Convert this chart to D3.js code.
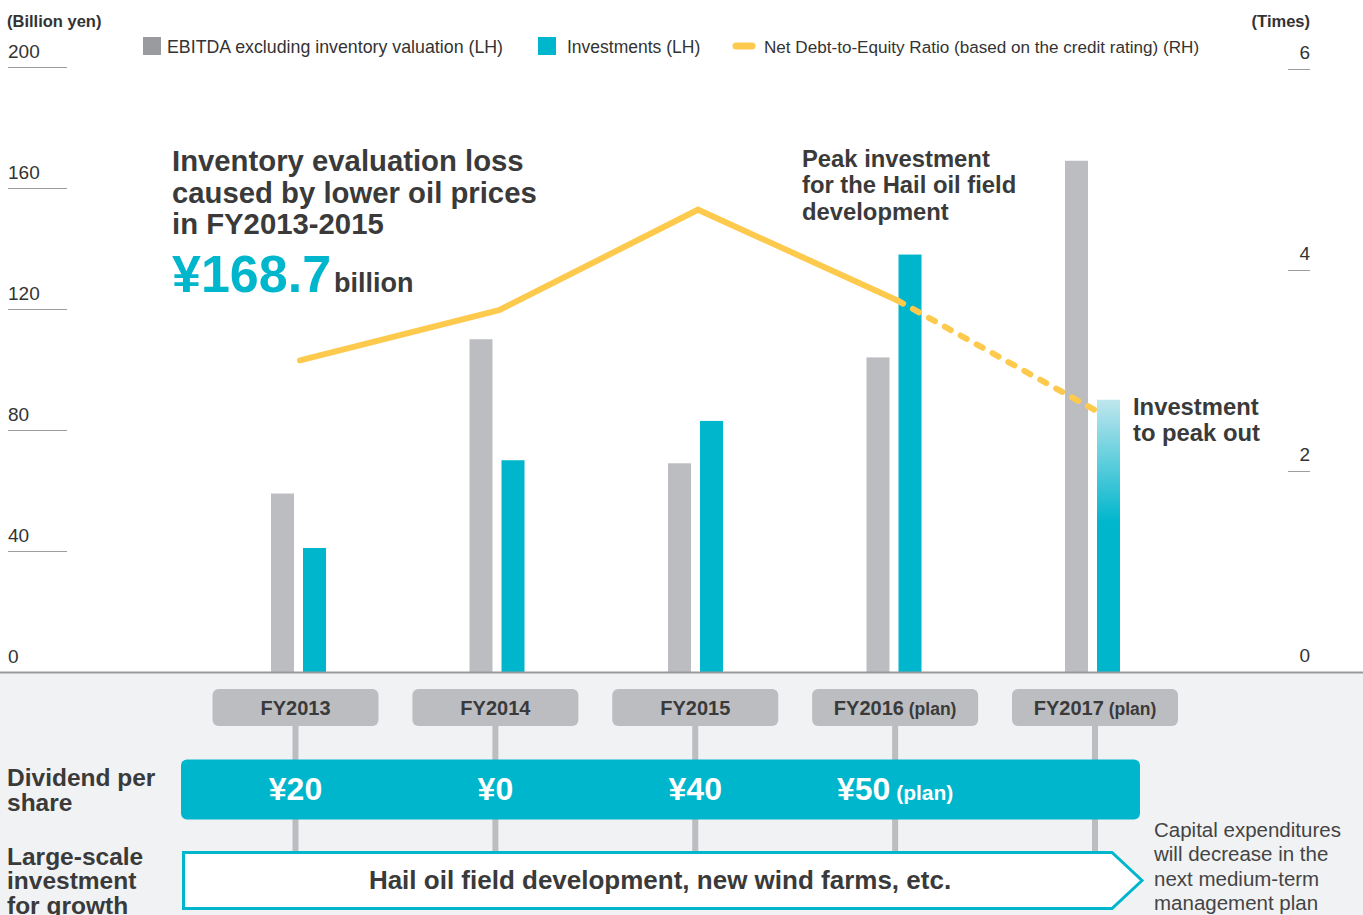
<!DOCTYPE html>
<html>
<head>
<meta charset="utf-8">
<script src="https://cdn.jsdelivr.net/npm/d3@7/dist/d3.min.js"></script>
<style>
  html, body { margin: 0; padding: 0; background: #fff; }
  svg { display: block; font-family: "Liberation Sans", Arial, Helvetica, sans-serif; }
</style>
</head>
<body>
<svg id="chart" width="1363" height="915"></svg>
<script>
// Fiscal years and their status notes
const categories = ["FY2013", "FY2014", "FY2015", "FY2016", "FY2017"];
const categoryNotes = ["", "", "", "(plan)", "(plan)"];

// Left-hand series (billion yen)
const ebitda = [59, 110, 69, 104, 169];
const investments = [41, 70, 83, 138, 90];

// Right-hand series (times)
const netDebtEquity = [3.1, 3.6, 4.6, 3.7, 2.6];

// Dividend per share row
const dividends = ["¥20", "¥0", "¥40", "¥50", ""];
const dividendNotes = ["", "", "", "(plan)", ""];

// Axis ticks
const leftTicks = [0, 40, 80, 120, 160, 200];
const rightTicks = [0, 2, 4, 6];

const GRAY = "#bcbdc1";
const TEAL = "#00b6cc";
const YELLOW = "#fdca4e";
const TEXT = "#333";
const DARK = "#3a3a3a";

const svg = d3.select("#chart");

// Scales
const yL = d3.scaleLinear().domain([0, 200]).range([672, 67]);
const yR = d3.scaleLinear().domain([0, 6]).range([672, 69]);
const xBar = d3.scalePoint().domain(categories).range([298.5, 1092.5]);
const xLine = d3.scalePoint().domain(categories).range([300, 1096]);
const xBox = d3.scalePoint().domain(categories).range([295.5, 1095]);
const barW = 23;

// Gradient for the investment bar that is expected to peak out
const defs = svg.append("defs");
const grad = defs.append("linearGradient").attr("id", "fadeTeal")
  .attr("x1", 0).attr("y1", 0).attr("x2", 0).attr("y2", 1);
grad.append("stop").attr("offset", "0%").attr("stop-color", "#c0e6ee");
grad.append("stop").attr("offset", "45%").attr("stop-color", TEAL);
grad.append("stop").attr("offset", "100%").attr("stop-color", TEAL);

// Lower panel background
svg.append("rect").attr("x", 0).attr("y", 672).attr("width", 1363).attr("height", 243).attr("fill", "#f1f2f4");

// Left axis: label above a short rule
const gL = svg.append("g").attr("transform", "translate(8,0)")
  .call(d3.axisRight(yL).tickValues(leftTicks).tickSize(59).tickPadding(0).tickFormat(d3.format("d")));
gL.select(".domain").remove();
gL.selectAll(".tick line").attr("stroke", "#9d9d9d").attr("stroke-width", 1);
gL.selectAll(".tick text")
  .attr("x", 0).attr("y", -9.5).attr("dy", null)
  .attr("text-anchor", "start")
  .attr("fill", TEXT).style("font-size", "19px").style("font-family", "inherit");

// Right axis
const gR = svg.append("g").attr("transform", "translate(1310,0)")
  .call(d3.axisLeft(yR).tickValues(rightTicks).tickSize(22).tickPadding(0).tickFormat(d3.format("d")));
gR.select(".domain").remove();
gR.selectAll(".tick line").attr("stroke", "#9d9d9d").attr("stroke-width", 1);
gR.selectAll(".tick text")
  .attr("x", 0).attr("y", -11).attr("dy", null)
  .attr("text-anchor", "end")
  .attr("fill", TEXT).style("font-size", "19px").style("font-family", "inherit");

// Unit labels
svg.append("text").attr("x", 7).attr("y", 27).attr("fill", TEXT)
  .style("font-size", "16.5px").style("font-weight", "bold").text("(Billion yen)");
svg.append("text").attr("x", 1310).attr("y", 27).attr("text-anchor", "end").attr("fill", TEXT)
  .style("font-size", "16.5px").style("font-weight", "bold").text("(Times)");

// Legend
const legend = svg.append("g").style("font-size", "17.5px").attr("fill", TEXT);
legend.append("rect").attr("x", 143).attr("y", 37).attr("width", 18).attr("height", 18).attr("fill", "#9a9b9f");
legend.append("text").attr("x", 167).attr("y", 52.5).style("font-size", "17.8px").text("EBITDA excluding inventory valuation (LH)");
legend.append("rect").attr("x", 538).attr("y", 37).attr("width", 18).attr("height", 18).attr("fill", TEAL);
legend.append("text").attr("x", 567).attr("y", 52.5).text("Investments (LH)");
legend.append("line").attr("x1", 736).attr("x2", 752).attr("y1", 46).attr("y2", 46)
  .attr("stroke", YELLOW).attr("stroke-width", 7).attr("stroke-linecap", "round");
legend.append("text").attr("x", 764).attr("y", 52.5).style("font-size", "17.1px")
  .text("Net Debt-to-Equity Ratio (based on the credit rating) (RH)");

// Bars
const rows = categories.map((c, i) => ({ c, e: ebitda[i], inv: investments[i], i }));
svg.append("g").selectAll("rect").data(rows).join("rect")
  .attr("x", d => xBar(d.c) - 27.5).attr("width", barW)
  .attr("y", d => yL(d.e)).attr("height", d => yL(0) - yL(d.e))
  .attr("fill", GRAY);
svg.append("g").selectAll("rect").data(rows).join("rect")
  .attr("x", d => xBar(d.c) + 4.5).attr("width", barW)
  .attr("y", d => yL(d.inv)).attr("height", d => yL(0) - yL(d.inv))
  .attr("fill", d => d.i === categories.length - 1 ? "url(#fadeTeal)" : TEAL);

// Baseline rule between chart and lower panel
svg.append("line").attr("x1", 0).attr("x2", 1363).attr("y1", yL(0) + 0.5).attr("y2", yL(0) + 0.5)
  .attr("stroke", "#999").attr("stroke-width", 2);

// Net debt-to-equity line: actuals solid, forecast dashed
const pts = categories.map((c, i) => ({ c, v: netDebtEquity[i] }));
const line = d3.line().x(d => xLine(d.c)).y(d => yR(d.v));
svg.append("path").datum(pts.slice(0, 4)).attr("d", line)
  .attr("fill", "none").attr("stroke", YELLOW).attr("stroke-width", 6)
  .attr("stroke-linecap", "round").attr("stroke-linejoin", "miter");
svg.append("path").datum(pts.slice(3)).attr("d", line)
  .attr("fill", "none").attr("stroke", YELLOW).attr("stroke-width", 6)
  .attr("stroke-linecap", "round").attr("stroke-dasharray", "7 11.2");

// Annotations
const ann = svg.append("g").attr("fill", DARK).style("font-weight", "bold");
ann.append("text").attr("x", 172).attr("y", 171).style("font-size", "29.3px").text("Inventory evaluation loss");
ann.append("text").attr("x", 172).attr("y", 202.5).style("font-size", "29.3px").text("caused by lower oil prices");
ann.append("text").attr("x", 172).attr("y", 234).style("font-size", "29.3px").text("in FY2013-2015");
const big = ann.append("text").attr("x", 172).attr("y", 292);
big.append("tspan").attr("fill", TEAL).style("font-size", "52px").text("¥168.7");
big.append("tspan").attr("dx", 3).style("font-size", "27px").text("billion");

[["Peak investment", 166.5], ["for the Hail oil field", 193], ["development", 219.5]].forEach(([t, y]) =>
  ann.append("text").attr("x", 802).attr("y", y).style("font-size", "23.8px").text(t));
[["Investment", 414.5], ["to peak out", 440.5]].forEach(([t, y]) =>
  ann.append("text").attr("x", 1133).attr("y", y).style("font-size", "23.8px").text(t));

// Lower panel: connectors from year boxes
svg.append("g").selectAll("line").data(categories).join("line")
  .attr("x1", d => xBox(d)).attr("x2", d => xBox(d))
  .attr("y1", 720).attr("y2", 853)
  .attr("stroke", GRAY).attr("stroke-width", 6);

// Year boxes
const boxes = svg.append("g").selectAll("g").data(categories.map((c, i) => ({ c, note: categoryNotes[i] }))).join("g");
boxes.append("rect")
  .attr("x", d => xBox(d.c) - 83).attr("y", 689).attr("width", 166).attr("height", 37).attr("rx", 6)
  .attr("fill", GRAY);
const bt = boxes.append("text").attr("x", d => xBox(d.c)).attr("y", 715)
  .attr("text-anchor", "middle").attr("fill", DARK).style("font-weight", "bold");
bt.append("tspan").style("font-size", "20px").text(d => d.c);
bt.filter(d => d.note).append("tspan").style("font-size", "17.5px").text(d => " " + d.note);

// Dividend band
svg.append("rect").attr("x", 181).attr("y", 759.5).attr("width", 959).attr("height", 60).attr("rx", 6).attr("fill", TEAL);
const dv = svg.append("g").selectAll("text")
  .data(categories.map((c, i) => ({ c, v: dividends[i], note: dividendNotes[i] })).filter(d => d.v))
  .join("text")
  .attr("x", d => xBox(d.c)).attr("y", 800).attr("text-anchor", "middle")
  .attr("fill", "#fff").style("font-weight", "bold");
dv.append("tspan").style("font-size", "32px").text(d => d.v);
dv.filter(d => d.note).append("tspan").style("font-size", "21px").text(d => " " + d.note);

// Growth investment arrow
svg.append("path")
  .attr("d", "M183.5,852.5 H1112 L1142,880.5 L1112,908.5 H183.5 Z")
  .attr("fill", "#fff").attr("stroke", TEAL).attr("stroke-width", 3).attr("stroke-linejoin", "miter");
svg.append("text").attr("x", 660).attr("y", 889).attr("text-anchor", "middle")
  .attr("fill", DARK).style("font-weight", "bold").style("font-size", "26px")
  .text("Hail oil field development, new wind farms, etc.");

// Row labels
const rl = svg.append("g").attr("fill", DARK).style("font-weight", "bold").style("font-size", "24.5px");
[["Dividend per", 786], ["share", 810.5], ["Large-scale", 864.5], ["investment", 889], ["for growth", 913.5]]
  .forEach(([t, y]) => rl.append("text").attr("x", 7).attr("y", y).text(t));

// Side note
const sn = svg.append("g").attr("fill", "#444").style("font-size", "20.5px");
[["Capital expenditures", 836.5], ["will decrease in the", 861], ["next medium-term", 885.5], ["management plan", 910]]
  .forEach(([t, y]) => sn.append("text").attr("x", 1154).attr("y", y).text(t));
</script>
</body>
</html>
